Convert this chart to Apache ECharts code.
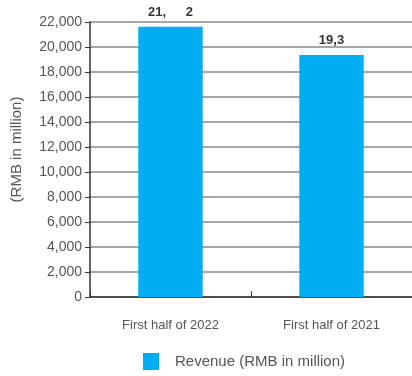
<!DOCTYPE html>
<html>
<head>
<meta charset="utf-8">
<script src="https://cdn.jsdelivr.net/npm/echarts@6/dist/echarts.min.js"></script>
<style>html,body{margin:0;padding:0;background:#fff;}#c{width:412px;height:376px;}</style>
</head>
<body>
<div id="c"></div>
<script>
var categories = ["First half of 2022", "First half of 2021"];
var revenue = [21624, 19360];
var valueLabels = ["21,\u2002\u2002\u20022", "19,3"];
var seriesName = "Revenue (RMB in million)";
var yAxisName = "(RMB in million)";

var chart = echarts.init(document.getElementById('c'));
chart.setOption({
  animation: false,
  grid: { left: 90, right: 0, top: 22, bottom: 79 },
  legend: {
    data: [seriesName],
    left: 138, top: 348,
    itemWidth: 16, itemHeight: 17,
    icon: 'rect',
    textStyle: { fontFamily: 'Liberation Sans', fontSize: 15, color: '#555', padding: [0, 0, 0, 11] }
  },
  xAxis: {
    type: 'category',
    data: categories,
    axisLine: { lineStyle: { color: '#333', width: 1.5 } },
    axisTick: { show: true, inside: true, length: 6, lineStyle: { color: '#333' } },
    axisLabel: { fontFamily: 'Liberation Sans', fontSize: 13, color: '#555', margin: 22 }
  },
  yAxis: {
    type: 'value',
    min: 0, max: 22000, interval: 2000,
    name: yAxisName,
    nameLocation: 'middle',
    nameGap: 66,
    nameTextStyle: { fontFamily: 'Liberation Sans', fontSize: 15, color: '#555', padding: [0, 0, 0, 20] },
    axisLine: { show: true, lineStyle: { color: '#333', width: 1.5 } },
    axisTick: { show: true, length: 5, lineStyle: { color: '#333' } },
    axisLabel: {
      fontFamily: 'Liberation Sans', fontSize: 14, color: '#555', margin: 8,
      formatter: function (v) { return v.toLocaleString('en-US'); }
    },
    splitLine: { show: true, lineStyle: { color: '#888', width: 1.5 } }
  },
  series: [{
    name: seriesName,
    type: 'bar',
    data: revenue,
    barWidth: '40%',
    itemStyle: { color: '#00AEEF' },
    label: {
      show: true, position: 'top', distance: 8,
      fontFamily: 'Liberation Sans', fontSize: 13, fontWeight: 'bold', color: '#333',
      formatter: function (p) { return valueLabels[p.dataIndex]; }
    }
  }]
});
</script>
</body>
</html>
